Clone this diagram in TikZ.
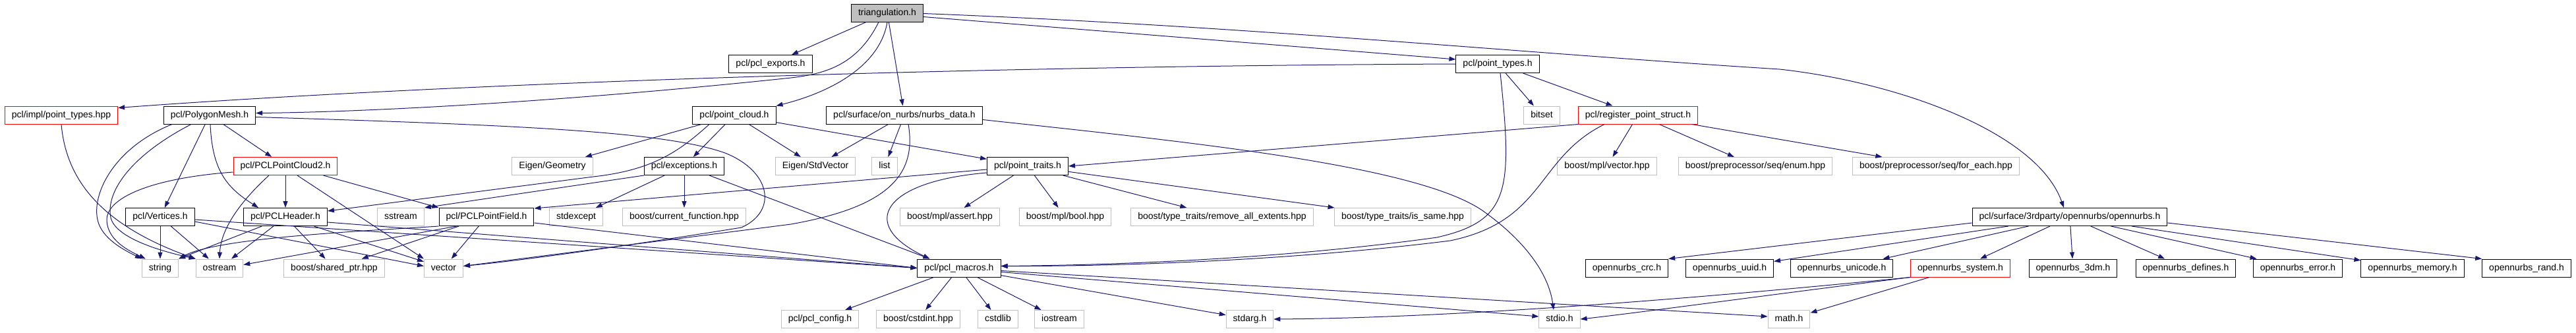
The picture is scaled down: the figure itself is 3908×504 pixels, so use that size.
\documentclass[tikz,border=0pt]{standalone}
\usepackage{fontspec}
\setmainfont{Liberation Sans}
\usetikzlibrary{arrows.meta,calc}
\definecolor{edgeblue}{HTML}{191970}
\definecolor{boxgray}{HTML}{BFBFBF}

\begin{document}
\begin{tikzpicture}[x=1pt,y=-1pt,
    filebox/.style={draw=black,line width=1pt,inner xsep=10.5pt,inner ysep=0pt,
      minimum height=27pt,text height=10.5pt,text depth=3pt,
      font=\fontsize{14}{16}\selectfont},
    redbox/.style={filebox,draw=red},
    sysbox/.style={filebox,draw=boxgray},
    rootbox/.style={filebox,fill=boxgray},
    dep/.style={draw=edgeblue,line width=1pt,-{Triangle[length=10pt,width=7pt]}}]
  \useasboundingbox (0,0) rectangle (3908,504);

  % row 0 and 1
  \node[rootbox] (tri) at (1346,19.5) {triangulation.h};
  \node[filebox] (exports) at (1169,97) {pcl/pcl\_exports.h};
  \node[filebox] (ptypes) at (2272,97) {pcl/point\_types.h};

  % row 2
  \node[redbox] (implpt) at (93,174.5) {pcl/impl/point\_types.hpp};
  \node[filebox] (polymesh) at (318,174.5) {pcl/PolygonMesh.h};
  \node[filebox] (pcloud) at (1114,174.5) {pcl/point\_cloud.h};
  \node[filebox] (nurbsdata) at (1372,174.5) {pcl/surface/on\_nurbs/nurbs\_data.h};
  \node[sysbox] (bitset) at (2339,174.5) {bitset};
  \node[redbox] (regpt) at (2485,174.5) {pcl/register\_point\_struct.h};

  % row 3
  \node[redbox] (pc2) at (433,252) {pcl/PCLPointCloud2.h};
  \node[sysbox] (eigengeo) at (838,252) {Eigen/Geometry};
  \node[filebox] (except) at (1038,252) {pcl/exceptions.h};
  \node[sysbox] (eigenstd) at (1237,252) {Eigen/StdVector};
  \node[sysbox] (list) at (1342,252) {list};
  \node[filebox] (ptraits) at (1559,252) {pcl/point\_traits.h};
  \node[sysbox] (mplvec) at (2438,252) {boost/mpl/vector.hpp};
  \node[sysbox] (ppenum) at (2663,252) {boost/preprocessor/seq/enum.hpp};
  \node[sysbox] (ppforeach) at (2937,252) {boost/preprocessor/seq/for\_each.hpp};

  % row 4
  \node[filebox] (vertices) at (243,329) {pcl/Vertices.h};
  \node[filebox] (header) at (433,329) {pcl/PCLHeader.h};
  \node[sysbox] (sstream) at (608,329) {sstream};
  \node[filebox] (pfield) at (738,329) {pcl/PCLPointField.h};
  \node[sysbox] (stdexcept) at (874,329) {stdexcept};
  \node[sysbox] (curfunc) at (1038,329) {boost/current\_function.hpp};
  \node[sysbox] (mplassert) at (1441,329) {boost/mpl/assert.hpp};
  \node[sysbox] (mplbool) at (1616,329) {boost/mpl/bool.hpp};
  \node[sysbox] (remext) at (1854,329) {boost/type\_traits/remove\_all\_extents.hpp};
  \node[sysbox] (issame) at (2128,329) {boost/type\_traits/is\_same.hpp};
  \node[filebox] (onurbs) at (3140,329) {pcl/surface/3rdparty/opennurbs/opennurbs.h};

  % row 5
  \node[sysbox] (string) at (243,406.5) {string};
  \node[sysbox] (ostream) at (333,406.5) {ostream};
  \node[sysbox] (sharedptr) at (507,406.5) {boost/shared\_ptr.hpp};
  \node[sysbox] (vector) at (673,406.5) {vector};
  \node[filebox] (macros) at (1455,406.5) {pcl/pcl\_macros.h};
  \node[filebox] (crc) at (2468,406.5) {opennurbs\_crc.h};
  \node[filebox] (uuid) at (2624,406.5) {opennurbs\_uuid.h};
  \node[filebox] (unicode) at (2794,406.5) {opennurbs\_unicode.h};
  \node[redbox] (system) at (2974,406.5) {opennurbs\_system.h};
  \node[filebox] (o3dm) at (3145,406.5) {opennurbs\_3dm.h};
  \node[filebox] (defines) at (3316,406.5) {opennurbs\_defines.h};
  \node[filebox] (error) at (3486,406.5) {opennurbs\_error.h};
  \node[filebox] (memory) at (3660,406.5) {opennurbs\_memory.h};
  \node[filebox] (rand) at (3833,406.5) {opennurbs\_rand.h};

  % row 6
  \node[sysbox] (config) at (1244,484) {pcl/pcl\_config.h};
  \node[sysbox] (cstdint) at (1393,484) {boost/cstdint.hpp};
  \node[sysbox] (cstdlib) at (1514,484) {cstdlib};
  \node[sysbox] (iostream) at (1607,484) {iostream};
  \node[sysbox] (stdarg) at (1896,484) {stdarg.h};
  \node[sysbox] (stdio) at (2366,484) {stdio.h};
  \node[sysbox] (math) at (2714,484) {math.h};

  % triangulation.h
  \draw[dep] (tri) -- (exports);
  \draw[dep] ($(tri.south)+(-13,0)$) .. controls (1300,100) and (1250,112) .. (1200,118)
    .. controls (850,155) and (550,170) .. ($(polymesh.east)+(0,-3)$);
  \draw[dep] (tri.south) .. controls (1335,100) and (1260,140) .. (pcloud.north east);
  \draw[dep] (tri) -- (nurbsdata);
  \draw[dep] ($(tri.east)+(0,6)$) -- ($(ptypes.west)+(0,-7)$);
  \draw[dep] ($(tri.east)+(0,1)$) .. controls (1900,40) and (2300,80) .. (2700,105)
    .. controls (2880,125) and (3090,200) .. ($(onurbs.north)+(-9,0)$);

  % pcl/point_types.h
  \draw[dep] (ptypes.west) .. controls (1500,100) and (700,125) .. ($(implpt.north east)+(0,3)$);
  \draw[dep] (ptypes) -- (bitset);
  \draw[dep] (ptypes) -- (regpt);
  \draw[dep] ($(ptypes.south)+(4,0)$) .. controls (2295,290) and (2290,335) .. (2180,360)
    .. controls (1950,392) and (1700,402) .. ($(macros.east)+(0,-3)$);

  % pcl/register_point_struct.h
  \draw[dep] (regpt.south west) -- (ptraits.east);
  \draw[dep] ($(regpt.south)+(-51,0)$) .. controls (2330,240) and (2345,335) .. (2200,365)
    .. controls (1960,395) and (1700,404) .. ($(macros.east)+(0,-3)$);
  \draw[dep] (regpt) -- (mplvec);
  \draw[dep] (regpt) -- (ppenum);
  \draw[dep] (regpt) -- (ppforeach);

  % pcl/point_cloud.h
  \draw[dep] (pcloud) -- (eigengeo);
  \draw[dep] ($(pcloud.south)+(-38,0)$) .. controls (1030,230) and (990,258) .. (900,268)
    -- ($(header.east)+(0,-9)$);
  \draw[dep] (pcloud) -- (except);
  \draw[dep] (pcloud) -- (eigenstd);
  \draw[dep] (pcloud) -- (ptraits);

  % pcl/surface/on_nurbs/nurbs_data.h
  \draw[dep] (nurbsdata) -- (eigenstd);
  \draw[dep] (nurbsdata) -- (list);
  \draw[dep] ($(nurbsdata.south)+(6,0)$) .. controls (1392,270) and (1340,315) .. (1200,340)
    -- ($(vector.east)+(0,-3)$);
  \draw[dep] ($(nurbsdata.east)+(0,7)$) .. controls (1800,215) and (2150,250) .. (2250,320)
    .. controls (2320,370) and (2350,420) .. ($(stdio.north)+(-9,0)$);

  % pcl/PolygonMesh.h
  \draw[dep] ($(polymesh.south)+(-57,0)$) .. controls (170,225) and (135,300) .. (150,340)
    .. controls (160,365) and (190,380) .. (string.north west);
  \draw[dep] ($(polymesh.south)+(-28,0)$) .. controls (200,235) and (160,290) .. (168,330)
    .. controls (175,360) and (240,380) .. (ostream.north west);
  \draw[dep] (polymesh) -- (vertices);
  \draw[dep] ($(polymesh.south)+(1,0)$) .. controls (322,260) and (345,285) .. ($(header.north west)+(23,0)$);
  \draw[dep] (polymesh) -- (pc2);
  \draw[dep] ($(polymesh.east)+(0,3)$) .. controls (800,190) and (1010,200) .. (1100,232)
    .. controls (1170,260) and (1180,320) .. (1125,345)
    .. controls (1000,365) and (820,392) .. ($(vector.east)+(0,-3)$);

  % pcl/impl/point_types.hpp
  \draw[dep] (implpt.south) .. controls (100,270) and (150,340) .. (ostream.north west);

  % pcl/PCLPointCloud2.h
  \draw[dep] ($(pc2.west)+(0,9)$) .. controls (230,270) and (160,300) .. (162,335)
    .. controls (164,365) and (195,380) .. ($(string.north west)+(6,0)$);
  \draw[dep] (pc2) -- (header);
  \draw[dep] ($(pc2.south)+(-25,0)$) .. controls (360,310) and (335,350) .. (ostream.north);
  \draw[dep] ($(pc2.south)+(18,0)$) -- (vector.north west);
  \draw[dep] ($(pc2.south east)+(-22,0)$) -- (pfield.north west);

  % pcl/Vertices.h
  \draw[dep] (vertices) -- (string);
  \draw[dep] (vertices) -- (ostream);
  \draw[dep] ($(vertices.east)+(0,7)$) -- ($(vector.west)+(0,-3)$);
  \draw[dep] ($(vertices.east)+(0,4)$) -- (macros.west);

  % pcl/PCLHeader.h
  \draw[dep] (header) -- (string.north east);
  \draw[dep] (header) -- (ostream);
  \draw[dep] (header) -- (sharedptr);
  \draw[dep] (header) -- (vector);
  \draw[dep] ($(header.east)+(0,8)$) -- (macros.west);

  % pcl/PCLPointField.h
  \draw[dep] (pfield.south west) .. controls (560,350) and (330,360) .. (string.north east);
  \draw[dep] ($(pfield.south west)+(27,0)$) -- ($(ostream.east)+(0,-5)$);
  \draw[dep] (pfield) -- (sharedptr);
  \draw[dep] (pfield) -- (vector);
  \draw[dep] ($(pfield.east)+(0,9)$) -- (macros.west);

  % pcl/exceptions.h
  \draw[dep] (except.south west) -- (sstream.north east);
  \draw[dep] (except) -- (stdexcept);
  \draw[dep] (except) -- (curfunc);
  \draw[dep] ($(except.south)+(38,0)$) -- ($(macros.north west)+(19,0)$);

  % pcl/point_traits.h
  \draw[dep] ($(ptraits.west)+(0,5)$) -- ($(pfield.north east)+(0,1)$);
  \draw[dep] ($(ptraits.west)+(0,10)$) .. controls (1340,275) and (1300,340) .. ($(macros.north west)+(19,0)$);
  \draw[dep] (ptraits) -- (mplassert);
  \draw[dep] (ptraits) -- (mplbool);
  \draw[dep] (ptraits) -- (remext);
  \draw[dep] (ptraits) -- (issame);

  % pcl/pcl_macros.h
  \foreach \h in {config,cstdint,cstdlib,iostream,stdarg}
    \draw[dep] (macros) -- (\h);
  \draw[dep] ($(macros.east)+(0,6)$) -- ($(stdio.west)+(0,-4)$);
  \draw[dep] ($(macros.east)+(0,4)$) -- ($(math.west)+(0,-4)$);

  % opennurbs.h
  \draw[dep] ($(onurbs.west)+(0,9)$) -- (crc.north east);
  \foreach \h in {uuid,unicode,system,o3dm,defines,error,memory}
    \draw[dep] (onurbs) -- (\h);
  \draw[dep] ($(onurbs.east)+(0,9)$) -- (rand.north west);

  % opennurbs_system.h
  \draw[dep] (system.south west) .. controls (2550,455) and (2200,482) .. (stdarg.east);
  \draw[dep] (system.south west) .. controls (2700,445) and (2480,475) .. (stdio.east);
  \draw[dep] (system) -- (math);
\end{tikzpicture}
\end{document}
